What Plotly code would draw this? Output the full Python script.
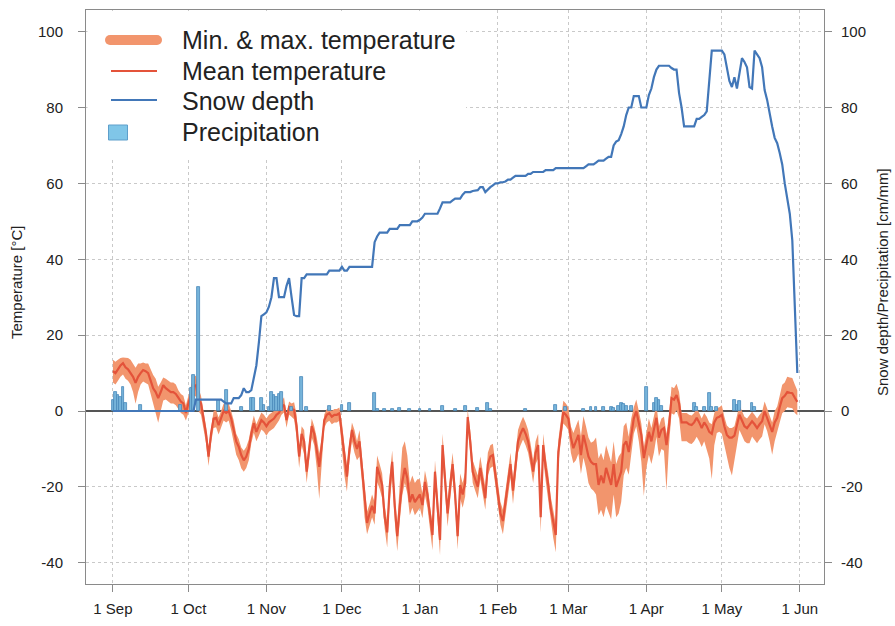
import datetime as dt
import plotly.graph_objects as go

# Daily series, 1 Sep 2014 - 31 May 2015 (one value per day)
t_mean = [
    10.5, 10, 11, 12, 12.6, 11.5, 11, 10, 9, 7.4,
    9, 10, 10.8, 10.5, 10, 8, 6, 5, 3.4, 5,
    6.8, 6, 5.5, 5, 5, 4.5, 3.5, 2.5, 2, -0.5,
    2, 4.5, 6.5, 6.8, 3, 2, -2, -6, -12, -6,
    -2, -1.8, -3.7, -2, 0, -0.5, 0, -2, -5, -8,
    -9.4, -11.6, -13, -12, -10, -6, -3.2, -5.5, -4, -2.4,
    -3, -4, -3, -2.4, -2, -1, -0.5, 1, 1.6, -2.4,
    1, 0.5, 0.3, -4, -12, -6, -8, -16, -10, -4,
    -6, -10, -14.7, -9, -2.4, -1, -0.6, -1.5, -1, -1,
    -0.6, -6, -12, -17.3, -10, -5, -8, -10, -8, -15,
    -24, -29.5, -27, -25, -27, -14.7, -17, -19.5, -28, -32,
    -20, -13.4, -25, -33, -25, -18.7, -15, -17.7, -24, -22,
    -24, -23, -22, -24.8, -18.7, -22, -28, -32.7, -16, -25,
    -34, -9, -18, -27, -20, -14, -22, -33, -19.5, -22,
    -19, -1.6, -8, -16, -18, -20, -15, -19, -23, -14,
    -12, -11.6, -17, -23, -27, -29, -24, -20, -14, -21,
    -14, -8, -6, -4.5, -6, -8, -11.6, -16, -11, -9,
    -28, -9, -15, -19.5, -25.6, -29, -32.7, -10.8, -5, -0.3,
    -1, -2, -7, -9.8, -8, -6.3, -11.6, -6.3, -9, -12,
    -13.4, -14, -14, -19.5, -17, -19, -15, -17, -19.5, -14,
    -20, -18, -16, -9, -8, -10.8, -6, -2, 0, -3,
    -6.3, -12.4, -9, -5.5, -8, -5, -1.8, -7, -5, -4.5,
    -9, -4, 3.4, 3, 4.2, 2, -3, -3, -3, -3.5,
    -3.7, -3, -1.8, -3, -4.5, -3, -4, -5.5, -6, -3,
    -1.8, -1.5, -1, -4, -6.3, -7, -7, -6.5, -4, -1,
    -2.5, -4, -4.5, -3.5, -2.7, -3.5, -4.5, -3.5, -2.7, 0,
    -1.8, -4, -5.5, -3, -1.8, 1, 3.4, 4, 5, 4.8,
    4.7, 3.5, 2.4,
]

# Daily maximum above the mean
t_max_above = [
    3, 3, 2.5, 2, 1.5, 2.5, 3, 3.5, 3.5, 4,
    3.5, 2.5, 2, 2, 2.5, 3, 3.5, 3.5, 3, 2.5,
    2, 2.5, 2.5, 2.5, 2.5, 2.5, 2, 2, 2, 2,
    2, 2, 2.5, 2.5, 3, 2, 2, 2, 2.5, 2,
    2, 2, 2, 2, 2, 2, 2, 2, 2.5, 2,
    2, 2, 2.5, 2.5, 2.5, 2, 2, 2, 2, 2,
    2, 2, 2, 2, 2, 2, 1.5, 1.5, 2, 1.5,
    1.5, 1.5, 2, 3, 2, 2, 3, 2, 2, 2,
    2, 3, 3.5, 2, 1.5, 1.5, 1.5, 1.5, 1.5, 1.5,
    1.5, 3, 3, 3, 2, 2, 3, 2, 3, 3,
    3, 3, 2.5, 3, 3, 3, 3, 3, 3, 3,
    3, 3, 3, 3, 6, 9, 7, 6, 5, 5,
    5, 5, 4, 3, 3, 3, 3, 3, 3, 3,
    3, 3, 3, 3, 3, 3, 3, 3, 3, 3,
    3, 2, 3, 3, 3, 3, 3, 3, 3, 3,
    3, 3, 3, 3, 3, 3, 3, 3, 3, 3,
    3, 3, 3, 3, 3, 3, 3, 3, 3, 3,
    3, 3, 3, 3, 3, 3, 3, 3, 3, 3,
    3, 3, 3, 4, 4, 4, 5, 5, 5, 5,
    5, 6, 7, 7, 6, 6, 6, 6, 6, 6,
    6, 6, 5, 5, 5, 4, 4, 3, 3, 3,
    3, 3, 3.5, 3.5, 3.5, 3.5, 3.5, 3, 3, 3,
    3, 3, 3, 3, 3, 3, 2.5, 2.5, 2.5, 2.5,
    2.5, 2.5, 2.5, 2.5, 2.5, 2.5, 2.5, 2.5, 2.5, 2.5,
    2.5, 2.5, 2.5, 2.5, 2.5, 2.5, 2.5, 2.5, 2.5, 2.5,
    2.5, 2.5, 2.5, 2.5, 2.5, 2.5, 2.5, 2.5, 2.5, 2.5,
    2.5, 2.5, 2.5, 3, 3, 3, 3.5, 3.5, 4, 4,
    4, 3.5, 3,
]

# Daily minimum below the mean
t_min_below = [
    3, 3, 3, 3, 3, 3, 3, 3, 4, 5.5,
    4, 3, 3, 3, 3, 3.5, 4, 5, 6.5, 5,
    4, 3, 3, 3, 3, 3, 3, 3, 3, 2,
    2.5, 2.5, 2.5, 3, 3, 3, 2.5, 2.5, 2.5, 2.5,
    2.5, 2.5, 2.5, 2.5, 2.5, 2.5, 2.5, 3, 3.5, 3.5,
    3.5, 3.5, 3, 3, 3, 2.5, 2.5, 2.5, 2.5, 2.5,
    2.5, 2.5, 2.5, 2.5, 2.5, 2.5, 2, 2, 2, 2,
    2, 2, 2.5, 3, 3, 3, 3.5, 3, 3, 3,
    3, 5, 8.5, 4, 2, 2, 2, 2, 2, 2,
    2, 4, 5, 4, 3, 3, 3, 3, 4, 4,
    4, 3, 3, 3, 3, 4, 3.5, 3.5, 3, 4,
    4, 4, 4, 4, 4, 3.5, 4, 4, 3.5, 3.5,
    3.5, 3.5, 3.5, 3.5, 3.5, 3.5, 4, 4, 3.5, 4,
    4, 4, 3.5, 3.5, 3.5, 3.5, 3.5, 3.5, 3.5, 3.5,
    3.5, 3, 3, 3, 3, 3, 3, 3, 3, 3,
    3, 3, 3, 3, 3, 3.5, 3.5, 3.5, 3.5, 3.5,
    3.5, 3, 3, 3, 3, 3, 3, 3, 3, 3.5,
    4, 3.5, 3.5, 4, 4, 4.5, 4.5, 3.5, 3, 3,
    3, 3, 4, 4, 5, 5, 5, 6, 6, 7,
    7, 7, 8, 8, 9, 9, 10, 10, 9, 8,
    8, 9, 8, 8, 7, 6, 5, 4, 4, 5,
    7, 10, 6, 6, 6, 6, 5, 5, 5, 6,
    12, 5, 4, 4, 4, 4, 5, 5, 5, 5,
    5, 5, 5, 5, 5, 5, 6, 7, 12, 6,
    4, 4, 5, 5, 6, 8, 10, 6, 5, 4,
    4, 4, 4, 5, 4, 4, 4, 4, 4, 3.5,
    3.5, 4, 6, 5, 4, 4, 4, 4, 4, 4,
    4, 4, 3.5,
]

snow_depth = [
    0, 0, 0, 0, 0, 0, 0, 0, 0, 0,
    0, 0, 0, 0, 0, 0, 0, 0, 0, 0,
    0, 0, 0, 0, 0, 0, 0, 0, 0, 0,
    0, 0, 0, 3, 3, 3, 3, 3, 3, 3,
    3, 3, 3, 3, 2.5, 2, 2, 2, 3.4, 3.4,
    3.4, 4.2, 6, 5, 5, 5.5, 9, 12, 18, 25,
    25.5, 26, 27.5, 30, 35, 35, 30, 30, 30, 33,
    35, 30, 25.3, 25, 25, 35, 35, 36, 36, 36,
    36, 36, 36, 36, 36, 36, 37, 37, 37, 37,
    37, 38, 37, 37, 38, 38, 38, 38, 38, 38,
    38, 38, 38, 38, 44.5, 46, 47, 47, 47, 47,
    48, 48, 48, 48, 49, 49, 49, 49, 49, 50,
    50, 50, 50.4, 51, 52, 52, 52, 52, 52, 52,
    53.4, 55, 55, 55, 55, 55.5, 56, 56, 56, 57,
    57.7, 57.7, 57.7, 58, 58.2, 58.2, 59, 59, 57.7, 58.5,
    59, 59.5, 60, 60, 60.3, 60.3, 60.5, 61, 61, 61.5,
    62, 62, 62, 62, 62, 62.5, 62.5, 63, 63, 63,
    63, 63, 63.5, 63.5, 63.5, 63.5, 64, 64, 64, 64,
    64, 64, 64, 64, 64, 64, 64, 64, 64.5, 65,
    65, 65, 65.5, 66, 66, 66, 66.5, 67, 67, 70,
    71, 71.4, 73, 75, 78, 80, 80, 83, 83, 83,
    80, 80, 80, 83.3, 85, 88, 90, 91, 91, 91,
    91, 91, 90.4, 90, 90, 83.8, 80, 75, 75, 75,
    75, 75, 77, 77, 77.5, 78, 79, 87, 95, 95,
    95, 95, 95, 94, 90, 87, 85.4, 88, 85, 89,
    93, 92, 90.6, 85.4, 85, 95, 94, 93, 90.6, 84.6,
    82, 78, 75, 72, 70.6, 68, 65, 60, 56, 52,
    45, 27, 10,
]

# Days with precipitation (days after 1 Sep) and amounts in mm
precip_day = [0, 1, 2, 3, 4, 5, 11, 27, 31, 32, 34, 42, 45, 51, 55, 56, 59, 60,
              62, 63, 64, 65, 66, 67, 71, 75, 77, 86, 91, 94, 104, 105, 108, 111,
              114, 118, 122, 126, 131, 136, 140, 145, 149, 150, 164, 176, 180,
              187, 190, 192, 195, 198, 199, 201, 202, 203, 204, 206, 212, 215,
              216, 217, 218, 231, 232, 235, 237, 238, 240, 247, 248, 249, 254, 255]
precip_mm = [3, 5, 4.2, 3.7, 6.3, 2, 1.6, 1.6, 6, 9.5, 32.7, 3, 5.5, 1, 3.4, 3.4, 3.4, 1.6,
             1, 5, 4.2, 3.7, 4.5, 5, 1, 9, 1, 1.2, 1.6, 2, 4.7, 0.6, 0.5, 0.6,
             0.8, 0.5, 0.4, 0.4, 1.3, 0.4, 1.4, 0.7, 2, 0.4, 0.5, 1.6, 1,
             0.6, 1, 1, 1, 1, 0.8, 1.2, 2, 1.8, 1.4, 1.2, 6.3, 2.2,
             3.4, 2.8, 1.2, 2, 1, 1, 4.7, 1, 1, 3, 1.5, 2.6, 2, 1]

month_ticks = ["2014-09-01", "2014-10-01", "2014-11-01", "2014-12-01", "2015-01-01",
               "2015-02-01", "2015-03-01", "2015-04-01", "2015-05-01", "2015-06-01"]
month_labels = ["1 Sep", "1 Oct", "1 Nov", "1 Dec", "1 Jan",
                "1 Feb", "1 Mar", "1 Apr", "1 May", "1 Jun"]
value_ticks = [-40, -20, 0, 20, 40, 60, 80, 100]
value_labels = ["-40", "-20", "0", "20", "40", "60", "80", "100"]
legend_labels = ["Min. & max. temperature", "Mean temperature", "Snow depth", "Precipitation"]
left_title = "Temperature [°C]"
right_title = "Snow depth/Precipitation [cm/mm]"

start = dt.datetime(2014, 9, 1)
dates = [start + dt.timedelta(days=i) for i in range(len(t_mean))]
t_max = [m + u for m, u in zip(t_mean, t_max_above)]
t_min = [m - d for m, d in zip(t_mean, t_min_below)]
precip_dates = [start + dt.timedelta(days=d) for d in precip_day]

BAND = "#F2956D"
MEAN = "#E4533A"
SNOW = "#4277B8"
PRECIP = "#76B4DA"
PRECIP_EDGE = "#4788B9"
KEY_PRECIP = "#80C6E8"
FONT = "Liberation Sans, Arial, sans-serif"

fig = go.Figure()

# min/max envelope and daily mean
fig.add_trace(go.Scatter(x=dates, y=t_max, mode="lines", line=dict(width=0, color=BAND),
                         showlegend=False, hoverinfo="skip"))
fig.add_trace(go.Scatter(x=dates, y=t_min, mode="lines", line=dict(width=0, color=BAND),
                         fill="tonexty", fillcolor=BAND, name=legend_labels[0], showlegend=False))
fig.add_trace(go.Scatter(x=dates, y=t_mean, mode="lines", name=legend_labels[1],
                         line=dict(width=2.2, color=MEAN), showlegend=False))

# precipitation and snow on the secondary axis
fig.add_trace(go.Bar(x=precip_dates, y=precip_mm, name=legend_labels[3], yaxis="y2",
                     width=1.1 * 86400000,
                     marker=dict(color=PRECIP, line=dict(color=PRECIP_EDGE, width=0.8)),
                     showlegend=False))
fig.add_trace(go.Scatter(x=dates, y=snow_depth, mode="lines", name=legend_labels[2], yaxis="y2",
                         line=dict(width=2.2, color=SNOW), showlegend=False))

# plot-area geometry (pixels) used to place the key and axis titles
L, R, T, B = 86, 824, 10, 584


def px(xp):
    return (xp - L) / (R - L)


def py(yp):
    return (B - yp) / (B - T)


shapes = [
    dict(type="rect", xref="paper", yref="paper", x0=px(87.5), x1=px(466), y0=py(160), y1=py(11),
         fillcolor="white", line=dict(width=0), layer="above"),
    dict(type="line", xref="paper", yref="paper", x0=px(110), x1=px(157), y0=py(40), y1=py(40),
         line=dict(color=BAND, width=10), layer="above"),
    dict(type="circle", xref="paper", yref="paper", x0=px(105), x1=px(115), y0=py(45), y1=py(35),
         fillcolor=BAND, line=dict(width=0), layer="above"),
    dict(type="circle", xref="paper", yref="paper", x0=px(152), x1=px(162), y0=py(45), y1=py(35),
         fillcolor=BAND, line=dict(width=0), layer="above"),
    dict(type="line", xref="paper", yref="paper", x0=px(111), x1=px(157), y0=py(71), y1=py(71),
         line=dict(color=MEAN, width=2), layer="above"),
    dict(type="line", xref="paper", yref="paper", x0=px(111), x1=px(157), y0=py(100), y1=py(100),
         line=dict(color=SNOW, width=2), layer="above"),
    dict(type="rect", xref="paper", yref="paper", x0=px(108.5), x1=px(127.5), y0=py(140), y1=py(125),
         fillcolor=KEY_PRECIP, line=dict(color="#5E9FCB", width=1), layer="above"),
]

annotations = [
    dict(text=label, xref="paper", yref="paper", x=px(180), y=py(yc), xanchor="left",
         yanchor="middle", showarrow=False, font=dict(family=FONT, size=25, color="#222"))
    for label, yc in zip(legend_labels, [40, 71.5, 101.5, 132])
]
title_font = dict(family=FONT, size=15, color="#222")
annotations += [
    dict(text=left_title, xref="paper", yref="paper", x=px(16), y=py(282), textangle=-90,
         xanchor="center", yanchor="middle", showarrow=False, font=title_font),
    dict(text=right_title, xref="paper", yref="paper", x=px(882), y=py(282), textangle=-90,
         xanchor="center", yanchor="middle", showarrow=False, font=title_font),
]

x_lo = start - dt.timedelta(days=10.7)
x_hi = start + dt.timedelta(days=282.6)
y_range = [-45.6, 105.7]

axis_common = dict(
    showline=True, linecolor="#8a8a8a", linewidth=1, automargin=False,
    ticks="outside", ticklen=7, tickcolor="#8a8a8a",
    tickfont=dict(family=FONT, size=15, color="#222"),
)

fig.update_layout(
    width=895, height=626,
    margin=dict(l=L, r=895 - R, t=T, b=626 - B),
    paper_bgcolor="white", plot_bgcolor="white",
    font=dict(family=FONT, color="#222"),
    bargap=0,
    showlegend=False,
    shapes=shapes,
    annotations=annotations,
    xaxis=dict(type="date", range=[x_lo, x_hi], tickvals=month_ticks, ticktext=month_labels,
               showgrid=True, gridcolor="#c9c9c9", griddash="dot", gridwidth=1,
               mirror=True, zeroline=False, ticklabelstandoff=4, **axis_common),
    yaxis=dict(range=y_range, tickvals=value_ticks, ticktext=value_labels,
               showgrid=True, gridcolor="#c9c9c9", griddash="dot", gridwidth=1,
               zeroline=True, zerolinecolor="#555", zerolinewidth=1.6,
               mirror=True, ticklabelstandoff=12, **axis_common),
    yaxis2=dict(range=y_range, tickvals=value_ticks, ticktext=value_labels,
                overlaying="y", side="right", showgrid=False, zeroline=False,
                ticklabelstandoff=6, **axis_common),
)

fig.write_html("out.html")
